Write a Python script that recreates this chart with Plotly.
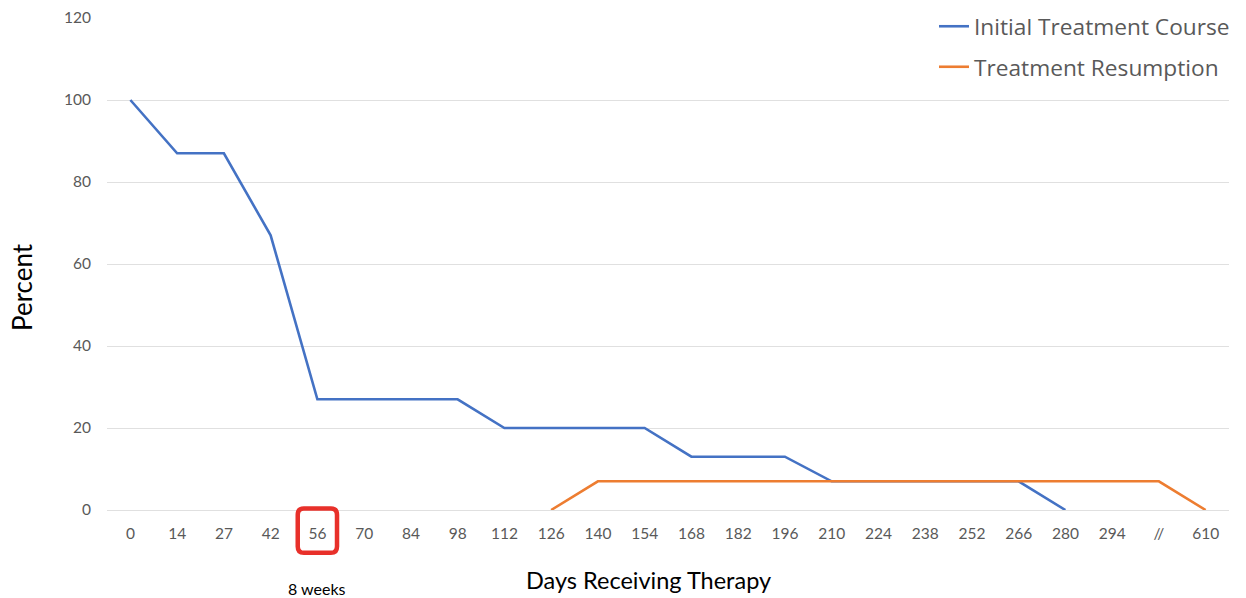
import plotly.graph_objects as go

days = ["0", "14", "27", "42", "56", "70", "84", "98", "112", "126", "140", "154",
        "168", "182", "196", "210", "224", "238", "252", "266", "280", "294", "//", "610"]
initial = [100, 87, 87, 67, 27, 27, 27, 27, 20, 20, 20, 20, 13, 13, 13, 7, 7, 7, 7, 7, 0,
           None, None, None]
resumption = [None, None, None, None, None, None, None, None, None, 0, 7, 7, 7, 7, 7, 7, 7,
              7, 7, 7, 7, 7, 7, 0]
highlight = "56"
highlight_note = "8 weeks"

BLUE = "#4472c4"
ORANGE = "#ed7d31"
GRAY = "#595959"

W, H = 1246, 598
L, R, T, B = 107, 17, 18, 88
PW, PH = W - L - R, H - T - B

fig = go.Figure()
fig.add_trace(go.Scatter(x=days, y=initial, mode="lines", name="Initial Treatment Course",
                         legendgroup="a", line=dict(color=BLUE, width=2.6)))
fig.add_trace(go.Scatter(x=days, y=resumption, mode="lines", name="Treatment Resumption",
                         legendgroup="b", line=dict(color=ORANGE, width=2.6)))

fig.update_layout(
    width=W, height=H,
    margin=dict(l=L, r=R, t=T, b=B, autoexpand=False),
    plot_bgcolor="white", paper_bgcolor="white",
    font=dict(family="Lato", color=GRAY, size=15),
    showlegend=True,
    legend=dict(x=1 + 6 / PW, xanchor="right", y=1 + 13 / PH, yanchor="top",
                font=dict(family="Open Sans", size=22.7, color=GRAY),
                bgcolor="rgba(255,255,255,0)", itemwidth=30, tracegroupgap=8),
    xaxis=dict(type="category", categoryorder="array", categoryarray=days,
               range=[-0.5, len(days) - 0.5], showgrid=False, zeroline=False,
               showline=False, ticks="", tickfont=dict(family="Lato", size=15.5, color=GRAY),
               ticklabelstandoff=12),
    yaxis=dict(range=[0, 120], tickvals=[0, 20, 40, 60, 80, 100, 120],
               showgrid=True, gridcolor="#e0e0e0", gridwidth=1, zeroline=True,
               zerolinecolor="#e0e0e0", zerolinewidth=1, showline=False, ticks="",
               tickfont=dict(family="Lato", size=15.5, color=GRAY), ticklabelstandoff=15),
)

# Rounded red box around the highlighted tick label
hi = days.index(highlight)
x0, x1 = hi - 0.42, hi + 0.42
y0, y1 = 0.003, -0.087
rx, ry = 0.13, 0.013
path = (f"M {x0+rx},{y0} L {x1-rx},{y0} Q {x1},{y0} {x1},{y0-ry} "
        f"L {x1},{y1+ry} Q {x1},{y1} {x1-rx},{y1} L {x0+rx},{y1} "
        f"Q {x0},{y1} {x0},{y1+ry} L {x0},{y0-ry} Q {x0},{y0} {x0+rx},{y0} Z")
fig.add_shape(type="path", path=path, xref="x", yref="paper",
              line=dict(color="#e8302a", width=4.5), layer="above")

fig.add_annotation(text=highlight_note, x=hi, xref="x", y=(510 - 588) / PH, yref="paper",
                   xanchor="center", yanchor="middle", showarrow=False,
                   font=dict(family="Lato", size=16, color="black"))
fig.add_annotation(text="Days Receiving Therapy", x=(648 - L) / PW, xref="paper",
                   y=(510 - 580) / PH, yref="paper", xanchor="center", yanchor="middle",
                   showarrow=False, font=dict(family="Lato", size=23.5, color="black"))
fig.add_annotation(text="Percent", x=(22 - L) / PW, xref="paper", y=(510 - 287) / PH,
                   yref="paper", xanchor="center", yanchor="middle", showarrow=False,
                   textangle=-90, font=dict(family="Lato", size=26, color="black"))

fig.write_html("out.html", config={"displayModeBar": False},
               post_script="document.body.style.margin='0';")
